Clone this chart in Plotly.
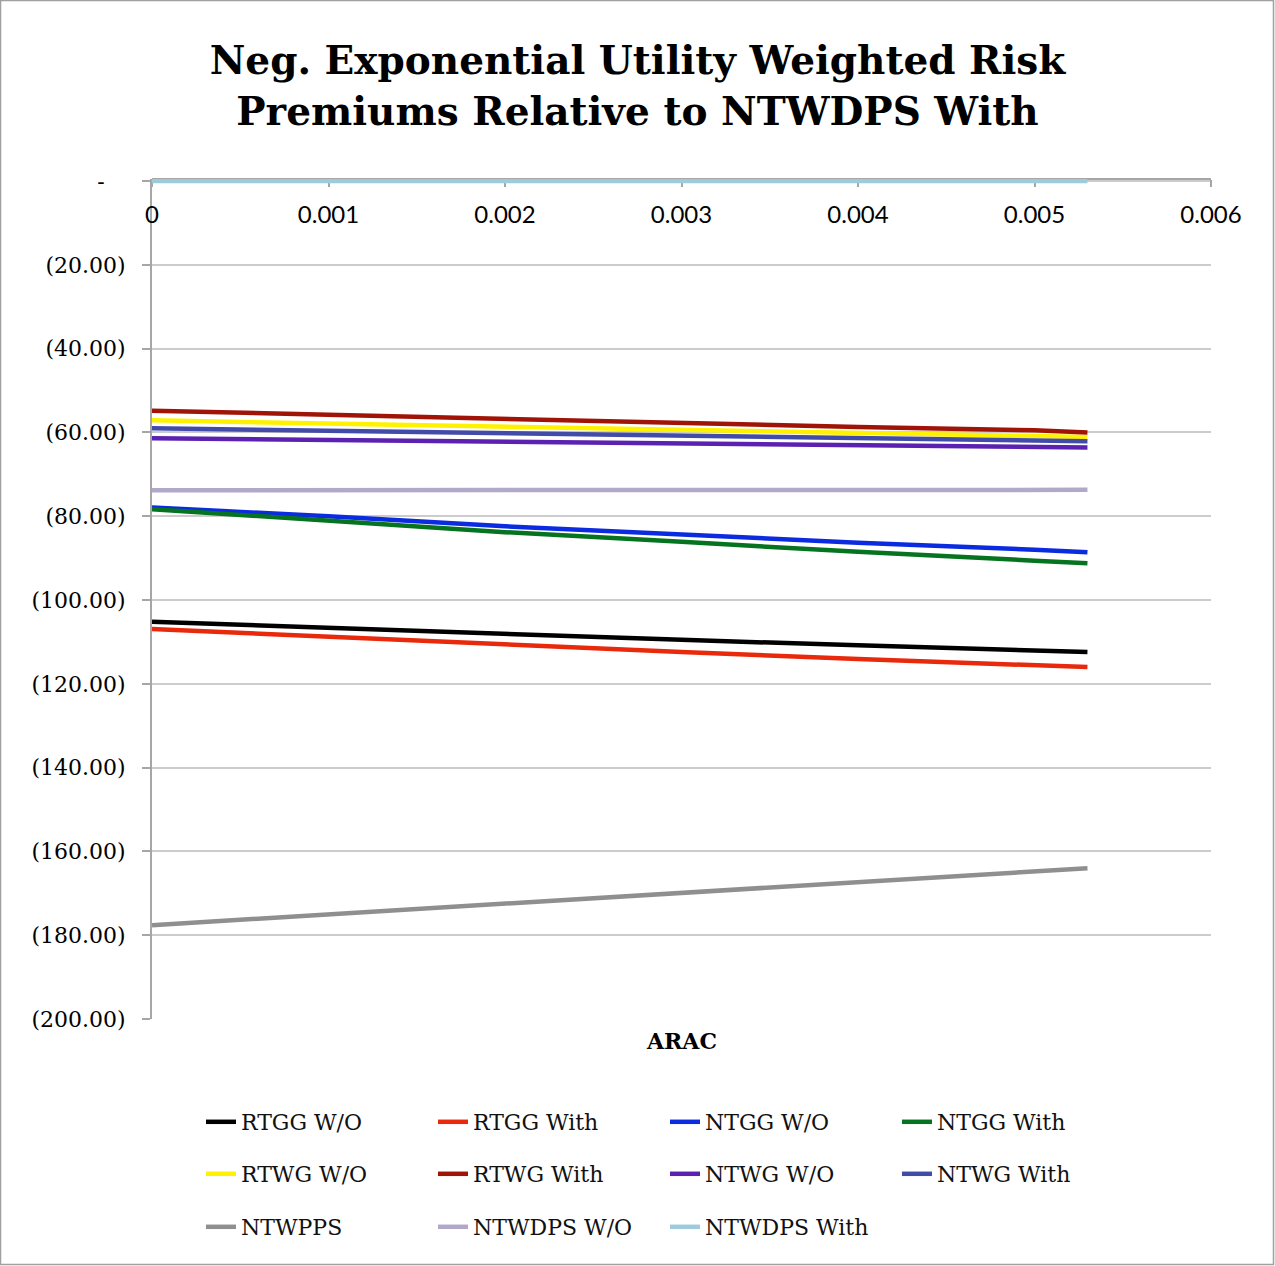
import plotly.graph_objects as go

# ---- data ----
arac = [0, 0.001, 0.002, 0.003, 0.004, 0.005, 0.0053]

rtgg_wo   = [-105.2, -106.7, -108.1, -109.5, -110.8, -112.0, -112.4]
rtgg_with = [-106.9, -108.8, -110.6, -112.4, -114.1, -115.6, -116.0]
ntgg_wo   = [-77.9, -80.0, -82.4, -84.4, -86.3, -88.0, -88.6]
ntgg_with = [-78.3, -81.1, -83.8, -86.1, -88.5, -90.6, -91.2]
rtwg_wo   = [-57.1, -57.9, -58.7, -59.5, -60.2, -60.9, -61.1]
rtwg_with = [-54.8, -55.8, -56.8, -57.8, -58.7, -59.5, -60.0]
ntwg_wo   = [-61.4, -61.8, -62.3, -62.7, -63.1, -63.5, -63.6]
ntwg_with = [-59.0, -59.6, -60.2, -60.8, -61.4, -61.9, -62.1]
ntwpps    = [-177.6, -175.0, -172.4, -169.8, -167.3, -164.8, -164.0]
ntwdps_wo = [-73.8, -73.8, -73.8, -73.7, -73.7, -73.7, -73.7]
ntwdps_with = [0, 0, 0, 0, 0, 0, 0]

series_names = ["RTGG W/O", "RTGG With", "NTGG W/O", "NTGG With",
                "RTWG W/O", "RTWG With", "NTWG W/O", "NTWG With",
                "NTWPPS", "NTWDPS W/O", "NTWDPS With"]
series_vals = [rtgg_wo, rtgg_with, ntgg_wo, ntgg_with,
               rtwg_wo, rtwg_with, ntwg_wo, ntwg_with,
               ntwpps, ntwdps_wo, ntwdps_with]
colors = ["#000000", "#E8290B", "#0A2BE0", "#05731F",
          "#FFF200", "#A01408", "#5B21B0", "#434BA8",
          "#8F8F8F", "#B2A8CA", "#9ECBDC"]

x_ticks = [0, 0.001, 0.002, 0.003, 0.004, 0.005, 0.006]
x_ticktext = ["0", "0.001", "0.002", "0.003", "0.004", "0.005", "0.006"]
y_ticks = [0, -20, -40, -60, -80, -100, -120, -140, -160, -180, -200]
y_ticktext = ["-\u00a0\u00a0\u00a0", "(20.00)", "(40.00)", "(60.00)", "(80.00)", "(100.00)",
              "(120.00)", "(140.00)", "(160.00)", "(180.00)", "(200.00)"]

SERIF = "DejaVu Serif"
SANS = "Lato"

fig = go.Figure()
legend_ids = ["legend", "legend", "legend", "legend",
              "legend2", "legend2", "legend2", "legend2",
              "legend3", "legend3", "legend3"]
for name, vals, col, lg in zip(series_names, series_vals, colors, legend_ids):
    fig.add_trace(go.Scatter(x=arac, y=vals, mode="lines", name=name,
                             line=dict(color=col, width=4.5),
                             legend=lg, cliponaxis=False))

W, H = 1275, 1266
L, R, T, B = 152, 64, 179, 247
pw, ph = W - L - R, H - T - B

def px2paper_x(px):
    return (px - L) / pw

def px2paper_y(py):
    return (H - B - py) / ph

leg_common = dict(orientation="h", font=dict(family=SERIF, size=22, color="#111111"),
                  entrywidth=187, entrywidthmode="pixels", xanchor="left",
                  yanchor="middle", bgcolor="rgba(0,0,0,0)", itemwidth=30,
                  traceorder="normal")

fig.update_layout(
    width=W, height=H,
    margin=dict(l=L, r=R, t=T, b=B, autoexpand=False),
    paper_bgcolor="white", plot_bgcolor="white",
    title=dict(text="Neg. Exponential Utility Weighted Risk<br>Premiums Relative to NTWDPS With",
               x=0.5, xanchor="center", y=1 - 74 / H, yanchor="middle",
               font=dict(family=SERIF, size=39, color="#000000", weight="bold")),
    xaxis=dict(range=[0, 0.006], side="bottom", anchor="free", position=1,
               tickvals=x_ticks, ticktext=x_ticktext,
               showgrid=False, zeroline=False, showline=True, linecolor="#A6A6A6",
               linewidth=2, ticks="outside", ticklen=7, tickcolor="#A6A6A6",
               tickwidth=2, ticklabelstandoff=7,
               tickfont=dict(family=SANS, size=24, color="#000000"),
               layer="below traces", fixedrange=True),
    yaxis=dict(range=[-200, 0.5], domain=[0, 1], tickvals=y_ticks, ticktext=y_ticktext,
               showgrid=True, gridcolor="#CCCCCC", gridwidth=1.5, zeroline=False,
               showline=True, linecolor="#A6A6A6", linewidth=2,
               ticks="outside", ticklen=8, tickcolor="#A6A6A6", tickwidth=2,
               ticklabelstandoff=12,
               tickfont=dict(family=SERIF, size=22, color="#000000"),
               layer="below traces", fixedrange=True),
    legend=dict(x=px2paper_x(201), y=px2paper_y(1122), **leg_common),
    legend2=dict(x=px2paper_x(201), y=px2paper_y(1174), **leg_common),
    legend3=dict(x=px2paper_x(201), y=px2paper_y(1227), **leg_common),
    annotations=[dict(text="<b>ARAC</b>", x=0.5, y=px2paper_y(1041), xref="paper",
                      yref="paper", showarrow=False, xanchor="center", yanchor="middle",
                      font=dict(family=SERIF, size=22, color="#000000"))],
    shapes=[dict(type="rect", xref="paper", yref="paper",
                 x0=px2paper_x(0.5), x1=px2paper_x(W - 1.5),
                 y0=px2paper_y(H - 1.5), y1=px2paper_y(0.5),
                 line=dict(color="#A0A0A0", width=1.5), fillcolor="rgba(0,0,0,0)",
                 layer="below")],
    showlegend=True,
)

fig.write_html("out.html", config={"displayModeBar": False},
               post_script="document.body.style.margin='0px';")
